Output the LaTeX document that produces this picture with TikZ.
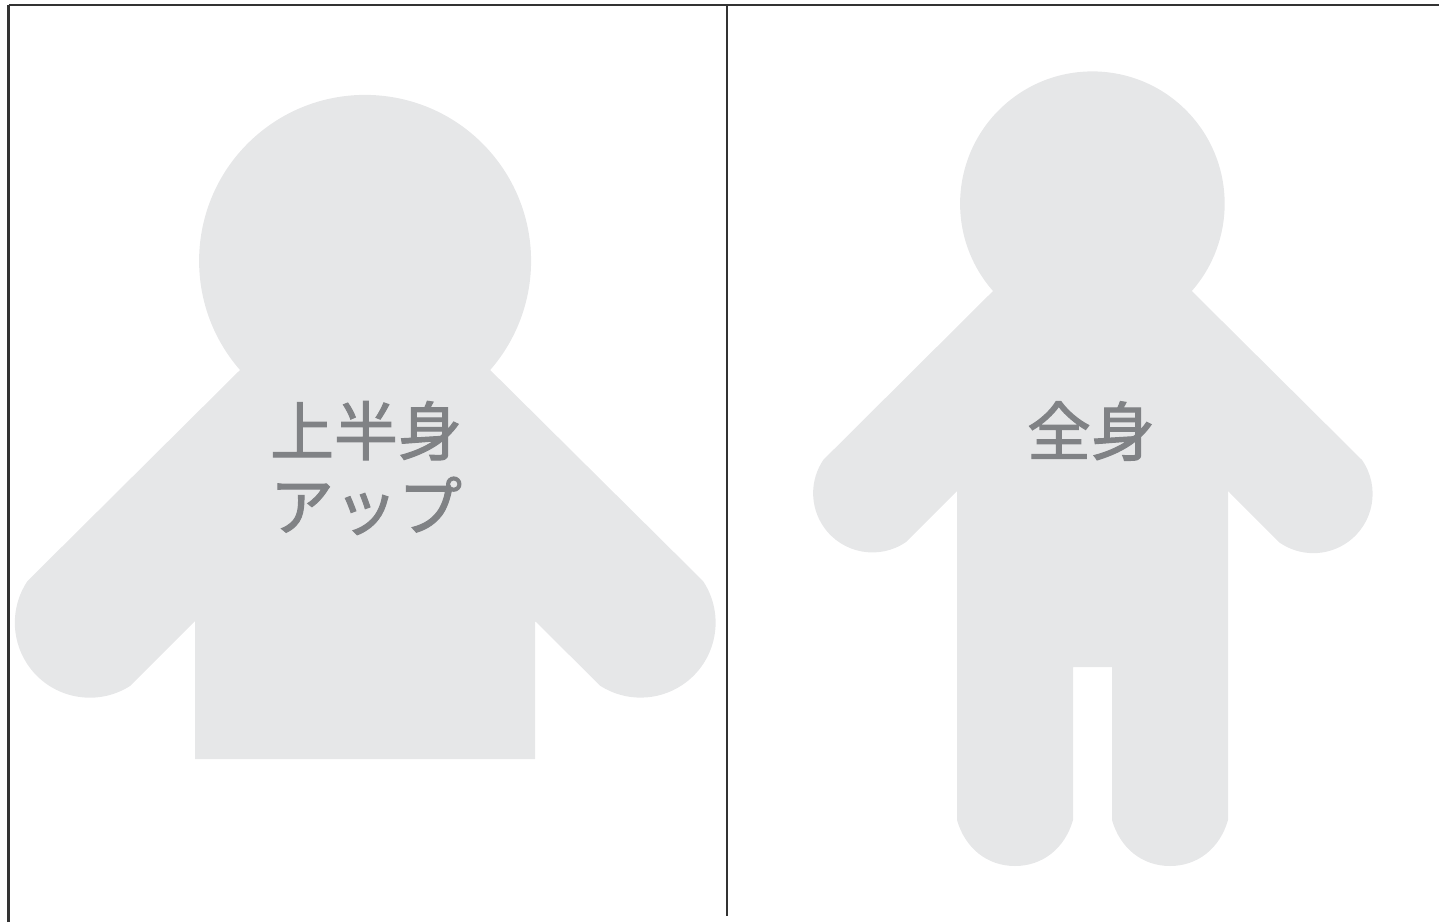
\documentclass[tikz,border=0pt]{standalone}
\usepackage{fontspec}
\newfontfamily\cjk[FakeBold=1.6]{Noto Sans CJK JP}
\definecolor{bodygray}{HTML}{E6E7E8}
\definecolor{labelgray}{HTML}{808285}
\definecolor{framegray}{HTML}{333333}
\tikzset{px/.style={x=1pt,y=-1pt},
  figure/.style={fill=bodygray,draw=none},
  figlabel/.style={text=labelgray,font=\cjk\fontsize{64}{75}\selectfont,align=center,inner sep=0pt}}
\begin{document}
\begin{tikzpicture}[px]
  \useasboundingbox (0,0) rectangle (1439,922);
  % upper body
  \fill[figure] (240,370) arc[start angle=221.1,end angle=-41.1,x radius=166,y radius=-166] -- (703,581)
    arc[start angle=33.7,end angle=-122.4,x radius=75,y radius=-75]
    -- (535,621) -- (535,759) -- (195,759) -- (195,621) -- (130,686)
    arc[start angle=-57.6,end angle=-213.7,x radius=75,y radius=-75] -- cycle;
  % full body
  \fill[figure] (993,291) arc[start angle=221.3,end angle=-41.3,x radius=132.3,y radius=-132.3] -- (1362,460)
    arc[start angle=34.8,end angle=-125.3,x radius=59.3,y radius=-59.3]
    -- (1228,491) -- (1228,820) .. controls (1220,848) and (1198,866) .. (1170,866)
    .. controls (1142,866) and (1120,848) .. (1112,820) -- (1112,667) -- (1073,667) -- (1073,820)
    .. controls (1065,848) and (1043,866) .. (1015,866) .. controls (987,866) and (965,848) .. (957,820)
    -- (957,491) -- (906,542)
    arc[start angle=-55.5,end angle=-214.2,x radius=59.3,y radius=-59.3] -- cycle;
  \node[figlabel] (upper) at (366,468) {上半身\\アップ};
  \node[figlabel] (full) at (1091,431) {全身};
  % frame
  \coordinate (topleft) at (8.5,5);
  \coordinate (topright) at (1439,5);
  \coordinate (botleft) at (8.5,922);
  \coordinate (midtop) at (727,5);
  \coordinate (midbot) at (727,915.5);
  \draw[framegray,line width=3pt] (botleft) -- (topleft);
  \draw[framegray,line width=2pt] (topleft) -- (topright);
  \draw[framegray,line width=1.3pt] (midtop) -- (midbot);
\end{tikzpicture}
\end{document}
